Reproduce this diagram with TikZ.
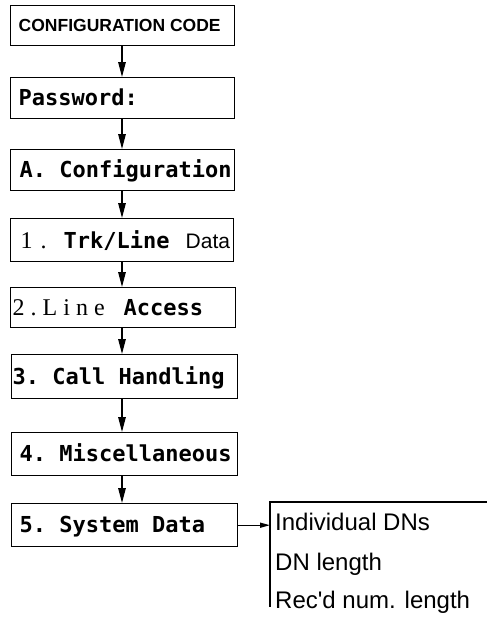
\documentclass[tikz,border=0pt]{standalone}
\usepackage{fontspec}
\usetikzlibrary{arrows.meta}
\setmainfont{Liberation Serif}
\newfontfamily\monof{DejaVu Sans Mono}
\newfontfamily\sansf{Liberation Sans}
\newcommand\boxtext[2]{\makebox[#1][l]{#2}}
\tikzset{
  box/.style={draw, line width=1.4pt, anchor=north west, inner ysep=0pt,
    text height=15pt, text depth=0pt, font=\monof\bfseries\fontsize{22}{24}\selectfont\frenchspacing},
  arr/.style={line width=1.4pt, -{Triangle[length=15pt,width=7.5pt]}},
  sarr/.style={line width=1.4pt, -{Triangle[length=10pt,width=5pt]}},
  item/.style={anchor=base west, inner sep=0pt, font=\sansf\fontsize{24}{26}\selectfont}
}
\begin{document}
\begin{tikzpicture}[x=1pt,y=-1pt]
\useasboundingbox (0,0) rectangle (487,624);
\node[box, inner xsep=8pt, minimum height=40pt, text height=12.5pt,
  font=\sansf\bfseries\fontsize{17.5}{20}\selectfont] (b1) at (10,5) {\boxtext{208pt}{CONFIGURATION CODE}};
\node[box, inner xsep=8pt, minimum height=41pt] (b2) at (10,77) {\boxtext{208pt}{Password:}};
\node[box, inner xsep=9pt, minimum height=41pt] (b3) at (10,149) {\boxtext{206pt}{A. Configuration}};
\node[box, inner xsep=10pt, minimum height=43pt, text height=17pt] (b4) at (10,218)
  {\boxtext{203pt}{\makebox[43pt][l]{\rmfamily\mdseries\fontsize{24}{26}\selectfont 1\kern8pt.}\makebox[122pt][l]{Trk/Line}{\sansf\mdseries\fontsize{21}{24}\selectfont Data}}};
\node[box, inner xsep=2pt, minimum height=40pt] (b5) at (10,287)
  {\boxtext{221pt}{\makebox[111pt][l]{\rmfamily\mdseries\fontsize{24}{26}\selectfont 2\kern6pt.\kern6pt L\kern6pt i\kern6pt n\kern6pt e}Access}};
\node[box, inner xsep=1pt, minimum height=44pt] (b6) at (11,354) {\boxtext{224pt}{3. Call Handling}};
\node[box, inner xsep=8pt, minimum height=43pt] (b7) at (11,432) {\boxtext{210pt}{4. Miscellaneous}};
\node[box, inner xsep=8pt, minimum height=43pt] (b8) at (11,503) {\boxtext{210pt}{5. System Data}};
\coordinate (ax) at (122,0);
\draw[arr] (b1.south -| ax) -- (b2.north -| ax);
\draw[arr] (b2.south -| ax) -- (b3.north -| ax);
\draw[arr] (b3.south -| ax) -- (b4.north -| ax);
\draw[arr] (b4.south -| ax) -- (b5.north -| ax);
\draw[arr] (b5.south -| ax) -- (b6.north -| ax);
\draw[arr] (b6.south -| ax) -- (b7.north -| ax);
\draw[arr] (b7.south -| ax) -- (b8.north -| ax);
\coordinate (rtop) at (270,502);
\coordinate (rbot) at (270,607);
\coordinate (rend) at (487,502);
\draw[line width=1.4pt] (rend) -- (rtop) -- (rbot);
\draw[sarr] (b8.east) -- (b8.east -| rtop);
\node[item] (t1) at (275,530) {Individual DNs};
\node[item] (t2) at (275,570) {DN length};
\node[item] (t3) at (275,608) {Rec'd num. length};
\end{tikzpicture}
\end{document}
